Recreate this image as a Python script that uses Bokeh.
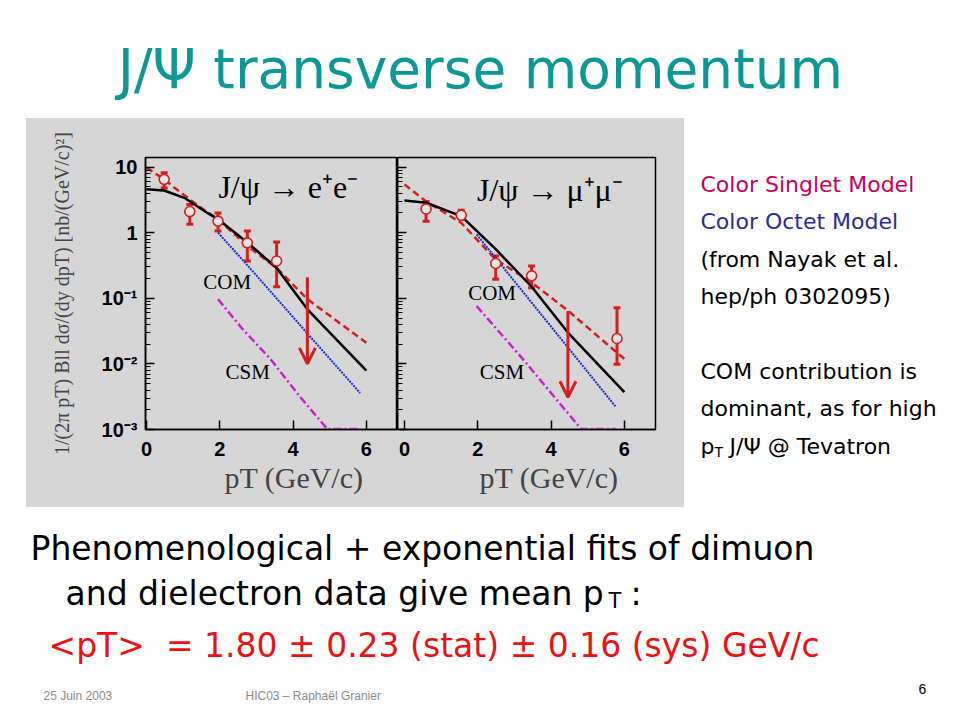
from bokeh.plotting import figure
from bokeh.layouts import column, row, Spacer
from bokeh.models import Range1d, ColumnDataSource, Whisker, TeeHead, Arrow, OpenHead
from bokeh.core.properties import value
from bokeh.embed import file_html
from bokeh.resources import INLINE

# ---------------- data ----------------
# J/psi -> e+e-
ee_pt = [0.48, 1.18, 1.95, 2.75, 3.55]
ee_y = [6.5, 2.1, 1.5, 0.70, 0.37]
ee_lo = [4.8, 1.34, 1.06, 0.37, 0.15]
ee_hi = [8.2, 2.7, 2.0, 1.06, 0.72]
ee_lim_pt = [4.39]
ee_lim_hi = [0.21]
ee_lim_lo = [0.010]

ee_exp_pt = [0, 0.48, 0.75, 1.4, 1.95, 2.75, 3.55, 4.39, 6.0]
ee_exp_y = [9.8, 6.5, 4.9, 2.6, 1.6, 0.63, 0.29, 0.097, 0.021]
ee_phen_pt = [0, 0.48, 1.03, 1.66, 1.95, 2.75, 3.55, 4.39, 6.0]
ee_phen_y = [4.6, 4.4, 3.4, 2.0, 1.6, 0.71, 0.29, 0.068, 0.0079]
ee_com_pt = [1.95, 2.75, 3.55, 4.39, 5.83]
ee_com_y = [1.0, 0.32, 0.10, 0.029, 0.0036]
ee_csm_pt = [1.95, 2.6, 3.39, 4.2, 4.93, 5.85]
ee_csm_y = [0.097, 0.035, 0.0117, 0.0031, 0.00102, 0.00102]

# J/psi -> mu+mu-
mm_pt = [0.59, 1.55, 2.49, 3.47, 5.80]
mm_y = [2.3, 1.84, 0.34, 0.22, 0.0244]
mm_lo = [1.5, 1.62, 0.195, 0.145, 0.0099]
mm_hi = [3.0, 2.2, 0.44, 0.31, 0.072]
mm_lim_pt = [4.46]
mm_lim_hi = [0.064]
mm_lim_lo = [0.0031]

mm_exp_pt = [0, 0.59, 1.55, 2.49, 3.47, 4.46, 5.8, 6.0]
mm_exp_y = [5.45, 3.0, 1.41, 0.39, 0.174, 0.065, 0.0148, 0.012]
mm_phen_pt = [0, 0.59, 1.55, 2.49, 3.47, 4.46, 6.0]
mm_phen_y = [3.1, 2.86, 1.79, 0.56, 0.15, 0.030, 0.0037]
mm_com_pt = [1.97, 2.49, 3.47, 4.46, 5.77]
mm_com_y = [0.94, 0.41, 0.086, 0.0178, 0.0022]
mm_csm_pt = [1.97, 3.19, 4.0, 4.82, 5.77]
mm_csm_y = [0.076, 0.0126, 0.0036, 0.00102, 0.00102]

x_ticks = [0, 2, 4, 6]
y_tick_labels = {10: "10", 1: "1", 0.1: "10⁻¹", 0.01: "10⁻²", 0.001: "10⁻³"}
y_tick_blank = {10: "", 1: "", 0.1: "", 0.01: "", 0.001: ""}

# ---------------- styles ----------------
GRAY = "#d6d6d6"
RED = "#d21f1f"
BLUE = "#1a2ccc"
MAGENTA = "#cc22cc"
TEAL = "#0e9797"
SLIDE_FONT = "DejaVu Sans"
EN = "\u2002"
NB = "\u00a0"


def panel(width, left_border, right_border, x_start, show_labels, title,
          pts, lo, hi, y, lim_pt, lim_hi, lim_lo,
          exp_pt, exp_y, phen_pt, phen_y, com_pt, com_y, csm_pt, csm_y,
          title_xy, com_xy, csm_xy):
    p = figure(width=width, height=389, x_range=Range1d(x_start, 6.85),
               y_range=Range1d(1e-3, 14), y_axis_type="log",
               toolbar_location=None, output_backend="svg",
               min_border_left=left_border, min_border_right=right_border,
               min_border_top=39, min_border_bottom=78)
    p.background_fill_color = GRAY
    p.border_fill_color = GRAY
    p.outline_line_color = "black"
    p.outline_line_width = 1.5
    p.xgrid.visible = False
    p.ygrid.visible = False

    for ax in (p.xaxis[0], p.yaxis[0]):
        ax.axis_line_color = "black"
        ax.axis_line_width = 1.5
        ax.major_tick_in = 9
        ax.major_tick_out = 0
        ax.minor_tick_in = 5
        ax.minor_tick_out = 0
        ax.major_tick_line_width = 1.5
        ax.minor_tick_line_width = 1
        ax.minor_tick_line_color = "black"
        ax.major_label_text_font = "Liberation Sans"
        ax.major_label_text_font_style = "bold"
        ax.major_label_text_font_size = "20px"
        ax.major_label_text_color = "black"
    p.xaxis.ticker = x_ticks
    p.xaxis.minor_tick_line_color = None
    p.xaxis.major_label_standoff = 12
    p.xaxis.axis_label = EN * 3 + "pT (GeV/c)"
    p.xaxis.axis_label_text_font = "Liberation Serif"
    p.xaxis.axis_label_text_font_style = "normal"
    p.xaxis.axis_label_text_font_size = "30px"
    p.xaxis.axis_label_standoff = 2

    if show_labels:
        p.yaxis.major_label_overrides = y_tick_labels
        p.yaxis.major_label_standoff = 8
        p.yaxis.axis_label = "1/(2π pT) Bll dσ/(dy dpT) [nb/(GeV/c)²]"
        p.yaxis.axis_label_text_font = "Liberation Serif"
        p.yaxis.axis_label_text_font_style = "normal"
        p.yaxis.axis_label_text_font_size = "20px"
        p.yaxis.axis_label_standoff = 26
    else:
        p.yaxis.major_label_overrides = y_tick_blank
        p.yaxis.major_label_standoff = 0

    # curves
    p.line(exp_pt, exp_y, line_color=RED, line_width=2.5, line_dash="7 4")
    p.line(com_pt, com_y, line_color=BLUE, line_width=2, line_dash="2 1")
    p.line(csm_pt, csm_y, line_color=MAGENTA, line_width=2.5, line_dash="8 3 2 3")
    p.line(phen_pt, phen_y, line_color="black", line_width=2.5)

    # data with error bars
    src = ColumnDataSource(dict(x=pts, y=y, lo=lo, hi=hi))
    p.add_layout(Whisker(source=src, base="x", upper="hi", lower="lo",
                         line_color=RED, line_width=3,
                         upper_head=TeeHead(size=7, line_color=RED, line_width=3),
                         lower_head=TeeHead(size=7, line_color=RED, line_width=3)))
    p.scatter("x", "y", source=src, marker="circle", size=10,
              fill_color="#e4e4e4", line_color=RED, line_width=1.6)

    # upper limit
    lsrc = ColumnDataSource(dict(x=lim_pt, hi=lim_hi, lo=lim_lo))
    p.add_layout(Arrow(source=lsrc, x_start="x", y_start="hi", x_end="x", y_end="lo",
                       line_color=RED, line_width=3,
                       end=OpenHead(size=16, line_color=RED, line_width=3)))

    # labels
    p.text(x=[title_xy[0]], y=[title_xy[1]], text=[title],
           text_font=value("Liberation Serif"), text_font_size="32px",
           text_color="black", text_align="left", text_baseline="middle")
    p.text(x=[com_xy[0]], y=[com_xy[1]], text=["COM"],
           text_font=value("Liberation Serif"), text_font_size="21px",
           text_color="black", text_align="center", text_baseline="middle")
    p.text(x=[csm_xy[0]], y=[csm_xy[1]], text=["CSM"],
           text_font=value("Liberation Serif"), text_font_size="21px",
           text_color="black", text_align="center", text_baseline="middle")
    return p


left = panel(371, 119, 0, -0.03, True, "J/ψ → e⁺e⁻",
             ee_pt, ee_lo, ee_hi, ee_y, ee_lim_pt, ee_lim_hi, ee_lim_lo,
             ee_exp_pt, ee_exp_y, ee_phen_pt, ee_phen_y, ee_com_pt, ee_com_y,
             ee_csm_pt, ee_csm_y, (1.96, 5.0), (2.2, 0.18), (2.76, 0.0076))
right = panel(287, 0, 29, -0.19, False, "J/ψ → μ⁺μ⁻",
              mm_pt, mm_lo, mm_hi, mm_y, mm_lim_pt, mm_lim_hi, mm_lim_lo,
              mm_exp_pt, mm_exp_y, mm_phen_pt, mm_phen_y, mm_com_pt, mm_com_y,
              mm_csm_pt, mm_csm_y, (1.98, 4.5), (2.39, 0.12), (2.66, 0.0076))


def blank(w, h):
    f = figure(width=w, height=h, x_range=Range1d(0, w), y_range=Range1d(h, 0),
               toolbar_location=None, output_backend="svg", min_border=0,
               x_axis_location=None, y_axis_location=None)
    f.xgrid.visible = False
    f.ygrid.visible = False
    f.outline_line_color = None
    f.background_fill_color = "white"
    f.border_fill_color = "white"
    return f


def put(f, x, y, txt, size, color="black", font=SLIDE_FONT, align="left", style="normal"):
    f.text(x=[x], y=[y], text=[txt], text_font=value(font), text_font_size=size,
           text_color=color, text_align=align, text_baseline="middle",
           text_font_style=style)


# title
top = blank(960, 118)
put(top, 480, 68, "J/Ψ transverse momentum", "55px", TEAL, align="center")

# right side text
side = blank(276, 389)
put(side, 16, 66, "Color Singlet Model", "22px", "#c8005a")
put(side, 16, 103, "Color Octet Model", "22px", "#2b2b99")
put(side, 16, 141, "(from Nayak et al.", "22px")
put(side, 16, 178, "hep/ph 0302095)", "22px")
put(side, 16, 253, "COM contribution is", "22px")
put(side, 16, 290, "dominant, as for high", "22px")
put(side, 16, 328, "p", "22px")
put(side, 30, 333, "T", "14px")
put(side, 45, 328, "J/Ψ @ Tevatron", "22px")

# bottom text
bottom = blank(960, 213)
put(bottom, 30, 41, "Phenomenological + exponential fits of dimuon", "33px")
put(bottom, 65, 86, "and dielectron data give mean p", "33px")
put(bottom, 608, 93, "T", "21px")
put(bottom, 630, 86, ":", "33px")
put(bottom, 48, 138, "<pT>" + NB + " = 1.80 ± 0.23 (stat) ± 0.16 (sys) GeV/c", "33px", "#ee1111")
put(bottom, 43, 188, "25 Juin 2003", "12px", "#8c8c8c", font="Liberation Sans")
put(bottom, 245, 188, "HIC03 – Raphaël Granier", "12px", "#8c8c8c", font="Liberation Sans")
put(bottom, 918, 181, "6", "14px", "black", font="Liberation Sans")

panels = row(left, right, styles={"background-color": GRAY})
layout = column(top, row(Spacer(width=26, height=389), panels, column(side)), bottom)

open("out.html", "w").write(file_html(layout, INLINE))
